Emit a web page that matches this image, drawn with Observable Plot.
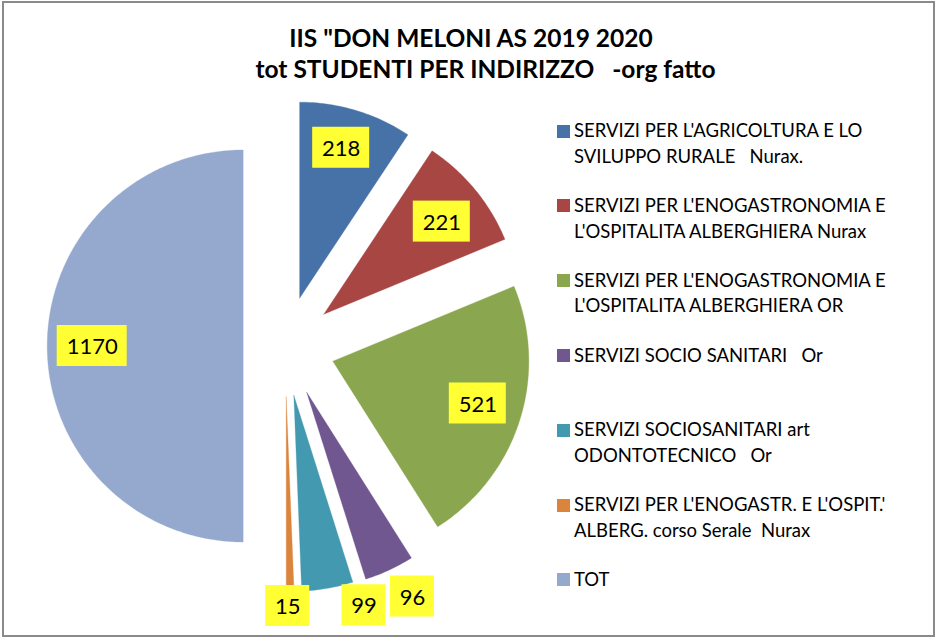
<!DOCTYPE html>
<html>
<head>
<meta charset="utf-8">
<script src="https://cdn.jsdelivr.net/npm/d3@7"></script>
<script src="https://cdn.jsdelivr.net/npm/@observablehq/plot@0.6"></script>
<style>
  html, body { margin: 0; padding: 0; background: #fff; }
  #wrap { position: relative; width: 937px; height: 639px; overflow: hidden; font-family: Lato, "Open Sans", sans-serif; color: #000; }
  #frame { position: absolute; left: 2px; top: 1px; width: 929px; height: 632px; border: 2px solid #8a8a8a; pointer-events: none; }
  .tline { position: absolute; left: 0; text-align: center; font-weight: bold; font-size: 24.5px; line-height: 30px; white-space: pre; }
  #chart { position: absolute; left: 0; top: 0; }
  .litem { position: absolute; left: 574px; font-size: 18.5px; line-height: 25.5px; white-space: pre; }
  .lsw { position: absolute; left: 557px; width: 13px; height: 13px; }
</style>
</head>
<body>
<div id="wrap">
  <div id="frame"></div>
  <div id="t1" class="tline"></div>
  <div id="t2" class="tline"></div>
  <div id="chart"></div>
  <div id="legend"></div>
</div>
<script>
// ---- data ----
const titleLines = ["IIS \"DON MELONI AS 2019 2020", "tot STUDENTI PER INDIRIZZO   -org fatto"];
const categories = [
  "SERVIZI PER L'AGRICOLTURA E LO\nSVILUPPO RURALE   Nurax.",
  "SERVIZI PER L'ENOGASTRONOMIA E\nL'OSPITALITA ALBERGHIERA Nurax",
  "SERVIZI PER L'ENOGASTRONOMIA E\nL'OSPITALITA ALBERGHIERA OR",
  "SERVIZI SOCIO SANITARI   Or",
  "SERVIZI SOCIOSANITARI art\nODONTOTECNICO   Or",
  "SERVIZI PER L'ENOGASTR. E L'OSPIT.'\nALBERG. corso Serale  Nurax",
  "TOT"
];
const values = [218, 221, 521, 96, 99, 15, 1170];
const colors = ["#4672A8", "#A84644", "#8AA64F", "#70578F", "#4399B0", "#DB843C", "#95A9CF"];

// ---- layout ----
const W = 540, H = 639;
const CX = 284.7, CY = 345.5, R = 196;
const explode = [50, 50, 50, 51, 50, 51, 42];          // px offset of each slice
const labelDist = [156, 150, 151, 230, 221, 209, 151];  // px from slice apex
const labelShift = [-1, 1, -1, -2, -7, 0.6, 0];          // degrees

const total = d3.sum(values);
const toRad = Math.PI / 180;
let acc = 0;
const slices = values.map((v, i) => {
  const a0 = acc / total * 360;
  acc += v;
  const a1 = acc / total * 360;
  const mid = (a0 + a1) / 2;
  const ox = CX + explode[i] * Math.sin(mid * toRad);
  const oy = CY - explode[i] * Math.cos(mid * toRad);
  const pts = [{x: ox, y: oy}];
  const n = Math.max(4, Math.ceil((a1 - a0) / 1));
  for (let k = 0; k <= n; k++) {
    const a = (a0 + (a1 - a0) * k / n) * toRad;
    pts.push({x: ox + R * Math.sin(a), y: oy - R * Math.cos(a)});
  }
  pts.push({x: ox, y: oy});
  const la = (mid + labelShift[i]) * toRad;
  const ld = explode[i] + labelDist[i];
  const text = String(v);
  const bw = text.length * 13 + 18, bh = 41;
  const lx = CX + ld * Math.sin(la), ly = CY - ld * Math.cos(la);
  return {pts, color: colors[i], label: {x: lx, y: ly, text, x1: lx - bw / 2, x2: lx + bw / 2, y1: ly - bh / 2, y2: ly + bh / 2}};
});
const labels = slices.map(s => s.label);

const plot = Plot.plot({
  width: W, height: H, margin: 0,
  x: {domain: [0, W], range: [0, W], axis: null},
  y: {domain: [0, H], range: [0, H], axis: null},
  style: {background: "transparent", fontFamily: "Lato, sans-serif", overflow: "visible"},
  marks: [
    ...slices.map(s => Plot.line(s.pts, {x: "x", y: "y", fill: s.color, stroke: s.color, strokeWidth: 0.3, curve: "linear"})),
    Plot.rect(labels, {x1: "x1", x2: "x2", y1: "y1", y2: "y2", fill: "#FFFF33"}),
    Plot.text(labels, {x: "x", y: "y", text: "text", fill: "#000", fontSize: 22, textAnchor: "middle", dy: 1})
  ]
});
document.getElementById("chart").appendChild(plot);

// title
const t1 = document.getElementById("t1"), t2 = document.getElementById("t2");
t1.textContent = titleLines[0]; t1.style.top = "22.5px"; t1.style.width = "942px";
t2.textContent = titleLines[1]; t2.style.top = "53.5px"; t2.style.width = "971px";

// legend
const legend = document.getElementById("legend");
categories.forEach((c, i) => {
  const cy = 131 + 74.8 * i;
  const sw = document.createElement("div");
  sw.className = "lsw"; sw.style.top = (cy - 6.5) + "px"; sw.style.background = colors[i];
  const tx = document.createElement("div");
  tx.className = "litem"; tx.style.top = (cy - 12.75) + "px"; tx.textContent = c;
  legend.appendChild(sw); legend.appendChild(tx);
});
</script>
</body>
</html>
